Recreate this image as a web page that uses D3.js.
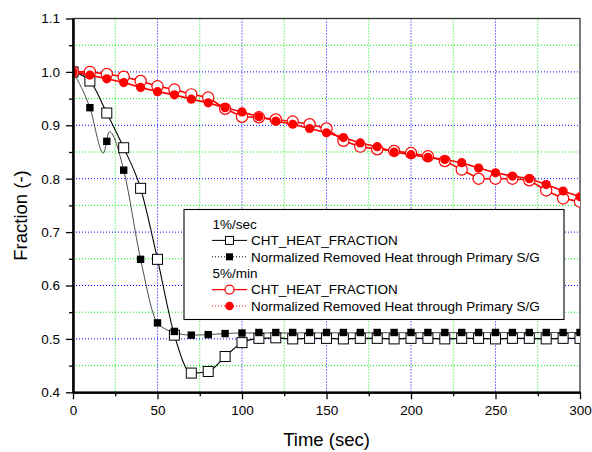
<!DOCTYPE html>
<html>
<head>
<meta charset="utf-8">
<script src="https://cdn.jsdelivr.net/npm/d3@7"></script>
<style>
  body { margin: 0; background: #fff; }
  svg { display: block; font-family: "Liberation Sans", Arial, sans-serif; }
</style>
</head>
<body>
<script>
// sample times (sec), one marker every 10 s
var times = d3.range(0, 301, 10);

// 1%/sec
var cht1 = [1.000, 0.983, 0.923, 0.858, 0.782, 0.649, 0.507, 0.436, 0.439, 0.467,
            0.493, 0.501, 0.502, 0.500, 0.501, 0.501, 0.500, 0.501, 0.501, 0.500,
            0.501, 0.501, 0.500, 0.501, 0.501, 0.500, 0.501, 0.501, 0.500, 0.501, 0.501];
var norm1 = [1.000, 0.933, 0.870, 0.816, 0.649, 0.530, 0.514, 0.507, 0.508, 0.510,
             0.511, 0.512, 0.512, 0.512, 0.512, 0.512, 0.512, 0.512, 0.512, 0.512,
             0.512, 0.512, 0.512, 0.512, 0.512, 0.512, 0.512, 0.512, 0.512, 0.512, 0.512];
// the dense trace of norm1 has a wiggle around 20 s
var norm1LineT = [0, 10, 18, 21.5, 30, 40, 50, 60, 70, 80, 90, 100, 300];
var norm1LineV = [1.000, 0.933, 0.848, 0.888, 0.816, 0.649, 0.530, 0.512, 0.507, 0.508, 0.510, 0.511, 0.512];

// 5%/min
var cht5 = [1.000, 1.000, 0.996, 0.991, 0.983, 0.973, 0.967, 0.958, 0.952, 0.931,
            0.916, 0.915, 0.911, 0.907, 0.902, 0.894, 0.871, 0.860, 0.855, 0.852,
            0.848, 0.842, 0.833, 0.817, 0.800, 0.800, 0.800, 0.797, 0.778, 0.763, 0.757];
var norm5 = [1.000, 0.994, 0.987, 0.980, 0.971, 0.963, 0.957, 0.949, 0.942, 0.933,
             0.925, 0.916, 0.908, 0.902, 0.894, 0.886, 0.877, 0.867, 0.860, 0.850,
             0.845, 0.840, 0.836, 0.830, 0.820, 0.811, 0.805, 0.800, 0.789, 0.777, 0.766];

var xMajor = [0, 50, 100, 150, 200, 250, 300];
var xMinor = [25, 75, 125, 175, 225, 275];
var yMajor = [0.4, 0.5, 0.6, 0.7, 0.8, 0.9, 1.0, 1.1];
var yMinor = [0.45, 0.55, 0.65, 0.75, 0.85, 0.95, 1.05];

var legendTitles = ["1%/sec", "5%/min"];
var seriesNames = ["CHT_HEAT_FRACTION", "Normalized Removed Heat through Primary S/G"];

var screen = {width: 592, height: 452};
var margins = {left: 73, right: 12, top: 18.5, bottom: 59.7};
var graph = {
    width: screen.width - margins.left - margins.right,
    height: screen.height - margins.top - margins.bottom
};

var xScale = d3.scaleLinear().domain([0, 300]).range([0, graph.width]);
var yScale = d3.scaleLinear().domain([0.4, 1.1]).range([graph.height, 0]);

var svg = d3.select("body").append("svg")
    .attr("width", screen.width)
    .attr("height", screen.height);

var plot = svg.append("g")
    .attr("transform", "translate(" + margins.left + "," + margins.top + ")");

svg.append("defs").append("clipPath").attr("id", "clip")
    .append("rect").attr("width", graph.width).attr("height", graph.height);

// grid
var grid = plot.append("g");
grid.selectAll(".vmaj").data(xMajor.slice(1, -1)).enter().append("line")
    .attr("x1", xScale).attr("x2", xScale).attr("y1", 0).attr("y2", graph.height)
    .attr("stroke", "#0000ff").attr("stroke-dasharray", "1,2");
grid.selectAll(".vmin").data(xMinor).enter().append("line")
    .attr("x1", xScale).attr("x2", xScale).attr("y1", 0).attr("y2", graph.height)
    .attr("stroke", "#00ee00").attr("stroke-dasharray", "1,2");
grid.selectAll(".hmaj").data(yMajor.slice(1, -1)).enter().append("line")
    .attr("y1", yScale).attr("y2", yScale).attr("x1", 0).attr("x2", graph.width)
    .attr("stroke", "#0000ff").attr("stroke-dasharray", "1,2");
grid.selectAll(".hmin").data(yMinor).enter().append("line")
    .attr("y1", yScale).attr("y2", yScale).attr("x1", 0).attr("x2", graph.width)
    .attr("stroke", "#00ee00").attr("stroke-dasharray", "1,2");

// frame
plot.append("rect")
    .attr("width", graph.width).attr("height", graph.height)
    .attr("fill", "none").attr("stroke", "#333").attr("stroke-width", 1.3);

var series = plot.append("g").attr("clip-path", "url(#clip)");

var pts = function (vals) {
    return times.map(function (t, i) { return [t, vals[i]]; });
};

var smooth = d3.line()
    .x(function (d) { return xScale(d[0]); })
    .y(function (d) { return yScale(d[1]); })
    .curve(d3.curveMonotoneX);
var straight = d3.line()
    .x(function (d) { return xScale(d[0]); })
    .y(function (d) { return yScale(d[1]); });

// 1%/sec lines
series.append("path")
    .datum(norm1LineT.map(function (t, i) { return [t, norm1LineV[i]]; }))
    .attr("d", smooth).attr("fill", "none")
    .attr("stroke", "#222").attr("stroke-width", 0.8);
series.append("path")
    .datum(pts(cht1))
    .attr("d", smooth).attr("fill", "none")
    .attr("stroke", "#000").attr("stroke-width", 1.1);

series.selectAll(".sqOpen").data(pts(cht1)).enter().append("rect")
    .attr("x", function (d) { return xScale(d[0]) - 5; })
    .attr("y", function (d) { return yScale(d[1]) - 5; })
    .attr("width", 10).attr("height", 10)
    .attr("fill", "#fff").attr("stroke", "#000").attr("stroke-width", 1);
series.selectAll(".sqFill").data(pts(norm1)).enter().append("rect")
    .attr("x", function (d) { return xScale(d[0]) - 3.7; })
    .attr("y", function (d) { return yScale(d[1]) - 3.7; })
    .attr("width", 7.4).attr("height", 7.4)
    .attr("fill", "#000");

// 5%/min lines
series.append("path")
    .datum(pts(cht5))
    .attr("d", straight).attr("fill", "none")
    .attr("stroke", "#ff0000").attr("stroke-width", 1.6);
series.append("path")
    .datum(pts(norm5))
    .attr("d", straight).attr("fill", "none")
    .attr("stroke", "#ff0000").attr("stroke-width", 1.6);

series.selectAll(".cOpen").data(pts(cht5)).enter().append("circle")
    .attr("cx", function (d) { return xScale(d[0]); })
    .attr("cy", function (d) { return yScale(d[1]); })
    .attr("r", 5.6)
    .attr("fill", "#fff").attr("stroke", "#ff0000").attr("stroke-width", 1.2);
series.selectAll(".cFill").data(pts(norm5)).enter().append("circle")
    .attr("cx", function (d) { return xScale(d[0]); })
    .attr("cy", function (d) { return yScale(d[1]); })
    .attr("r", 4.6)
    .attr("fill", "#ff0000");

// axes
var axes = plot.append("g");
var styleAxis = function (g) {
    g.select(".domain").attr("stroke-width", 2);
    g.selectAll(".tick line").attr("stroke-width", 1.3);
    g.selectAll("text").attr("font-size", "13.5px").attr("font-family", "Liberation Sans, Arial, sans-serif").attr("fill", "#000");
};
axes.append("g").attr("transform", "translate(0," + graph.height + ")")
    .call(d3.axisBottom(xScale).tickValues(xMinor).tickSize(4).tickSizeOuter(0).tickFormat(""))
    .call(styleAxis);
axes.append("g").attr("transform", "translate(0," + graph.height + ")")
    .call(d3.axisBottom(xScale).tickValues(xMajor).tickSize(7).tickSizeOuter(0).tickPadding(6).tickFormat(d3.format("d")))
    .call(styleAxis);
axes.append("g")
    .call(d3.axisLeft(yScale).tickValues(yMinor).tickSize(4).tickSizeOuter(0).tickFormat(""))
    .call(styleAxis);
axes.append("g")
    .call(d3.axisLeft(yScale).tickValues(yMajor).tickSize(7).tickSizeOuter(0).tickPadding(6).tickFormat(d3.format(".1f")))
    .call(styleAxis);

// axis titles
svg.append("text")
    .attr("x", margins.left + graph.width / 2).attr("y", 446)
    .attr("text-anchor", "middle").attr("font-size", "18.5px")
    .text("Time (sec)");
svg.append("text")
    .attr("transform", "translate(27,215.5) rotate(-90)")
    .attr("text-anchor", "middle").attr("font-size", "18.5px")
    .text("Fraction (-)");

// legend
var legend = svg.append("g");
legend.append("rect")
    .attr("x", 184).attr("y", 209.5).attr("width", 380).attr("height", 110)
    .attr("fill", "#fff").attr("stroke", "#000").attr("stroke-width", 1.1);

var rowY = function (i) { return 224 + i * 16.4; };
var legendRows = [
    {kind: "title", text: legendTitles[0]},
    {kind: "sqOpen", text: seriesNames[0]},
    {kind: "sqFill", text: seriesNames[1]},
    {kind: "title", text: legendTitles[1]},
    {kind: "cOpen", text: seriesNames[0]},
    {kind: "cFill", text: seriesNames[1]}
];
legendRows.forEach(function (row, i) {
    var y = rowY(i);
    if (row.kind === "title") {
        legend.append("text").attr("x", 212.5).attr("y", y).attr("dy", "0.36em")
            .attr("font-size", "13.5px").text(row.text);
        return;
    }
    var red = row.kind.charAt(0) === "c";
    var dotted = row.kind.indexOf("Fill") > 0;
    legend.append("line")
        .attr("x1", 212).attr("x2", 247).attr("y1", y).attr("y2", y)
        .attr("stroke", red ? "#ff0000" : "#000")
        .attr("stroke-width", red && !dotted ? 1.4 : 1)
        .attr("stroke-dasharray", dotted ? "1,2" : null);
    if (row.kind === "sqOpen") {
        legend.append("rect").attr("x", 225.5).attr("y", y - 4).attr("width", 8).attr("height", 8)
            .attr("fill", "#fff").attr("stroke", "#000");
    } else if (row.kind === "sqFill") {
        legend.append("rect").attr("x", 226).attr("y", y - 3.5).attr("width", 7).attr("height", 7)
            .attr("fill", "#000");
    } else if (row.kind === "cOpen") {
        legend.append("circle").attr("cx", 229.5).attr("cy", y).attr("r", 4.5)
            .attr("fill", "#fff").attr("stroke", "#ff0000").attr("stroke-width", 1.2);
    } else {
        legend.append("circle").attr("cx", 229.5).attr("cy", y).attr("r", 4.3)
            .attr("fill", "#ff0000");
    }
    legend.append("text").attr("x", 251).attr("y", y).attr("dy", "0.36em")
        .attr("font-size", "13.5px").text(row.text);
});
</script>
</body>
</html>
